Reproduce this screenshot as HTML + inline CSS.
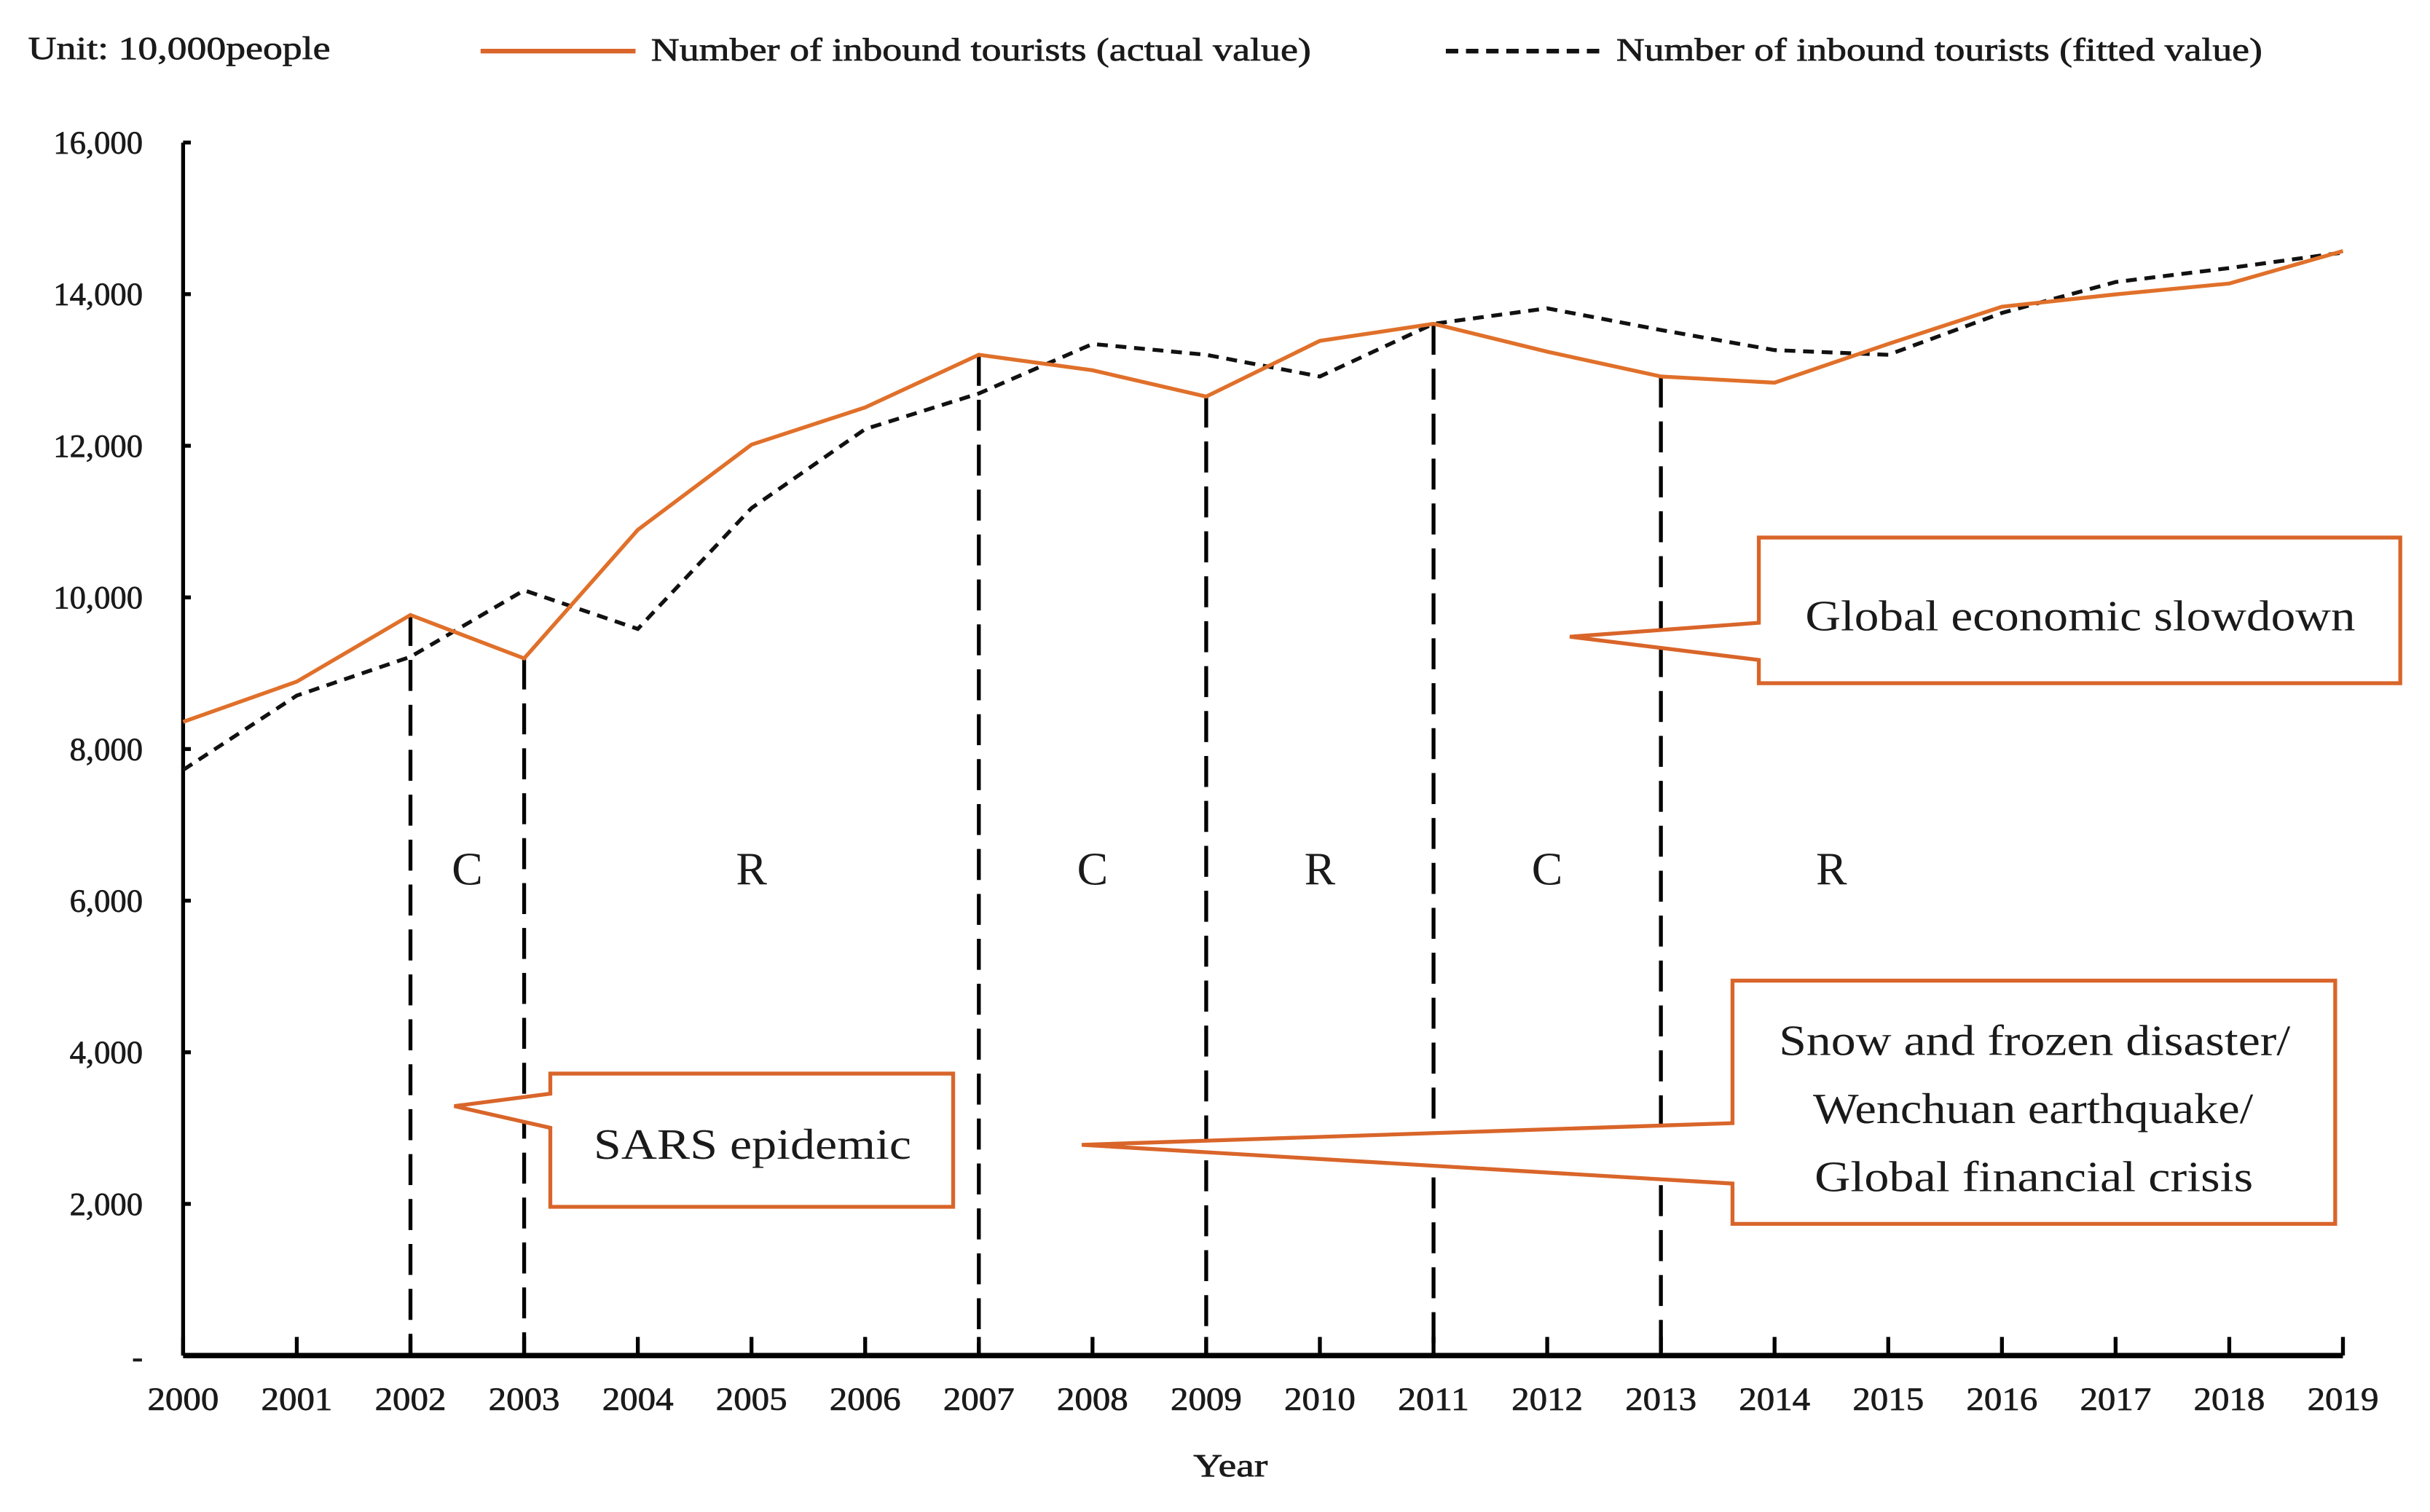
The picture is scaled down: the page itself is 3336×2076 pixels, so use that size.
<!DOCTYPE html>
<html><head><meta charset="utf-8"><style>
html,body{margin:0;padding:0;background:#fff;}
svg{display:block;}
text{font-family:"Liberation Serif",serif;fill:#1a1a1a;}
.sm{stroke:#1a1a1a;stroke-width:0.35;}
</style></head><body>
<svg id="chart" width="3336" height="2076" viewBox="0 0 1568 976" xmlns="http://www.w3.org/2000/svg">
<g id="axes"></g>
<g id="vlines"></g>
<g id="series"></g>
<g id="labels">
<text class="sm" x="18" y="38" font-size="21" textLength="195" lengthAdjust="spacingAndGlyphs">Unit: 10,000people</text>
<line x1="310" y1="33" x2="410" y2="33" stroke="#D9652A" stroke-width="3"/>
<text class="sm" x="420" y="39" font-size="21" textLength="426" lengthAdjust="spacingAndGlyphs">Number of inbound tourists (actual value)</text>
<line x1="933" y1="33" x2="1033" y2="33" stroke="#111" stroke-width="3" stroke-dasharray="8,5"/>
<text class="sm" x="1043" y="39" font-size="21" textLength="417" lengthAdjust="spacingAndGlyphs">Number of inbound tourists (fitted value)</text>
<text class="sm" x="770" y="953" font-size="21" textLength="48" lengthAdjust="spacingAndGlyphs">Year</text>
<path d="M1135,347 H1549 V441 H1135 V426 L1013,411 L1135,402 Z" fill="#fff" stroke="#D9652A" stroke-width="2.5"/>
<text x="1165" y="407" font-size="28" textLength="355" lengthAdjust="spacingAndGlyphs">Global economic slowdown</text>
<path d="M355,693 H615 V779 H355 V728 L293,714 L355,706 Z" fill="#fff" stroke="#D9652A" stroke-width="2.5"/>
<text x="383" y="748" font-size="28" textLength="205" lengthAdjust="spacingAndGlyphs">SARS epidemic</text>
<path d="M1118,633 H1507 V790 H1118 V764 L698,739 L1118,725 Z" fill="#fff" stroke="#D9652A" stroke-width="2.5"/>
<text x="1148" y="681" font-size="28" textLength="330" lengthAdjust="spacingAndGlyphs">Snow and frozen disaster/</text>
<text x="1170" y="725" font-size="28" textLength="284" lengthAdjust="spacingAndGlyphs">Wenchuan earthquake/</text>
<text x="1171" y="769" font-size="28" textLength="283" lengthAdjust="spacingAndGlyphs">Global financial crisis</text>
</g>
</svg>
<script>
const years = [2000,2001,2002,2003,2004,2005,2006,2007,2008,2009,2010,2011,2012,2013,2014,2015,2016,2017,2018,2019];
const actualValues = [8358,8889,9768,9195,10891,12015,12506,13200,12996,12649,13384,13609,13241,12914,12832,13343,13834,13997,14140,14569];
const fittedValues = [7724,8705,9216,10094,9584,11178,12220,12690,13343,13200,12914,13609,13813,13527,13262,13200,13752,14160,14344,14549];
const yTicks = [0,2000,4000,6000,8000,10000,12000,14000,16000];
const yTickLabels = ["-","2,000","4,000","6,000","8,000","10,000","12,000","14,000","16,000"];
const breakYears = [2002,2003,2007,2009,2011,2013];
const phaseLabels = ["C","R","C","R","C","R"];
const phaseCenters = [2002.5,2005,2008,2010,2012,2014.5];

const NS="http://www.w3.org/2000/svg";
const X0=118,X1=1512,Y0=875,Y1=92;
function xs(yr){return X0+(yr-years[0])/(years[years.length-1]-years[0])*(X1-X0);}
function ys(v){return Y0-(v/16000)*(Y0-Y1);}
function mk(tag,attrs,parent){const e=document.createElementNS(NS,tag);for(const k in attrs)e.setAttribute(k,attrs[k]);parent.appendChild(e);return e;}
const axes=document.getElementById('axes'),vl=document.getElementById('vlines'),se=document.getElementById('series');

let a=mk('line',{x1:X0,y1:Y1,x2:X0,y2:Y0,stroke:'#000','stroke-width':2.5},axes);


a=mk('line',{x1:X0,y1:Y0,x2:X1,y2:Y0,stroke:'#000','stroke-width':3.5},axes);


yTicks.forEach((v,i)=>{
  const y=ys(v);
  const t=mk('line',{x1:X0,y1:y,x2:X0+5,y2:y,stroke:'#000','stroke-width':2.5},axes);
  
  
  const attrs={x:92,y:y+(i===0?8:7),'font-size':21,'text-anchor':'end','class':'sm'};
  const l=mk('text',attrs,axes);
  l.textContent=yTickLabels[i];
  
  
});
years.forEach(yr=>{
  const x=xs(yr);
  const t=mk('line',{x1:x,y1:Y0,x2:x,y2:Y0-12,stroke:'#000','stroke-width':2.5},axes);
  
  
  const l=mk('text',{x:x-23,y:910,'font-size':21,'class':'sm',textLength:46,lengthAdjust:'spacingAndGlyphs'},axes);
  l.textContent=yr;
  
  
});
breakYears.forEach(yr=>{
  const i=years.indexOf(yr);
  const x=xs(yr);
  const l=mk('line',{x1:x,y1:ys(actualValues[i]),x2:x,y2:Y0,stroke:'#000','stroke-width':2.5,'stroke-dasharray':'20,9'},vl);
  
  
});
phaseLabels.forEach((p,i)=>{
  const t=mk('text',{x:xs(phaseCenters[i]),y:571,'font-size':30,'text-anchor':'middle'},vl);
  t.textContent=p;
  
  
});
function pts(arr){return arr.map((v,i)=>xs(years[i])+','+ys(v)).join(' ');}
let f=mk('polyline',{points:pts(fittedValues),fill:'none',stroke:'#111','stroke-width':2.5,'stroke-dasharray':'7,5'},se);


let ac=mk('polyline',{points:pts(actualValues),fill:'none',stroke:'#E0702A','stroke-width':2.5},se);


</script>
</body></html>
